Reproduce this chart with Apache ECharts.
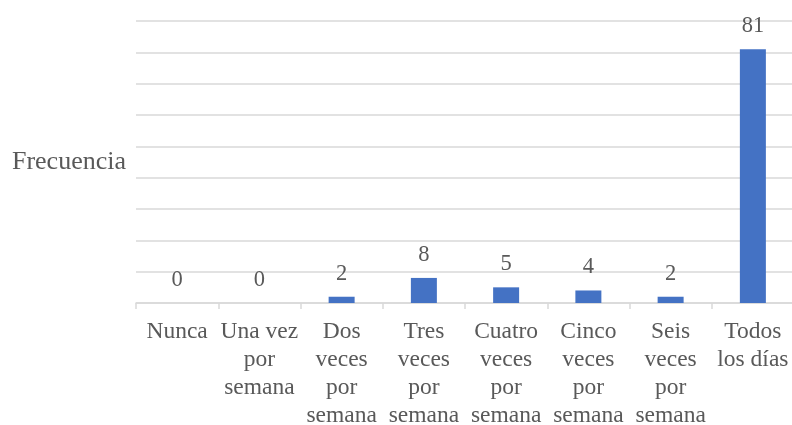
<!DOCTYPE html>
<html>
<head>
<meta charset="utf-8">
<script src="https://cdn.jsdelivr.net/npm/echarts@6/dist/echarts.min.js"></script>
<style>
  html, body { margin: 0; padding: 0; background: #fff; }
  #chart { width: 792px; height: 425px; }
</style>
</head>
<body>
<div id="chart"></div>
<script>
// Frequency categories and counts
const categories = [
  'Nunca',
  'Una vez\npor\nsemana',
  'Dos\nveces\npor\nsemana',
  'Tres\nveces\npor\nsemana',
  'Cuatro\nveces\npor\nsemana',
  'Cinco\nveces\npor\nsemana',
  'Seis\nveces\npor\nsemana',
  'Todos\nlos días'
];
const counts = [0, 0, 2, 8, 5, 4, 2, 81];
const axisTitle = 'Frecuencia';

const serif = '"Liberation Serif", "Times New Roman", serif';
const textGray = '#595959';
const lineGray = '#d9d9d9';

const chart = echarts.init(document.getElementById('chart'), null, { renderer: 'canvas' });
chart.setOption({
  animation: false,
  grid: {
    left: 136, right: -2, top: 21, bottom: 122,
    containLabel: false,
    outerBoundsMode: 'none'
  },
  xAxis: {
    type: 'category',
    data: categories,
    axisLine: { show: true, lineStyle: { color: lineGray, width: 1.5 } },
    axisTick: { show: true, length: 6, alignWithLabel: false, lineStyle: { color: lineGray, width: 1.5 } },
    axisLabel: {
      interval: 0,
      margin: 15,
      color: textGray,
      fontFamily: serif,
      fontSize: 23.5,
      lineHeight: 28
    }
  },
  yAxis: {
    type: 'value',
    min: 0,
    max: 90,
    interval: 10,
    name: axisTitle,
    nameLocation: 'middle',
    nameRotate: 0,
    nameGap: 10,
    nameTextStyle: { color: textGray, fontFamily: serif, fontSize: 26, align: 'right', padding: [4, 0, 0, 0] },
    axisLine: { show: false },
    axisTick: { show: false },
    axisLabel: { show: false },
    splitLine: { show: true, lineStyle: { color: lineGray, width: 1.5 } }
  },
  series: [{
    type: 'bar',
    data: counts,
    barWidth: 26,
    itemStyle: { color: '#4472C4' },
    label: {
      show: true,
      position: 'top',
      distance: 12,
      color: textGray,
      fontFamily: serif,
      fontSize: 22.5,
      lineHeight: 22
    }
  }]
});
</script>
</body>
</html>
